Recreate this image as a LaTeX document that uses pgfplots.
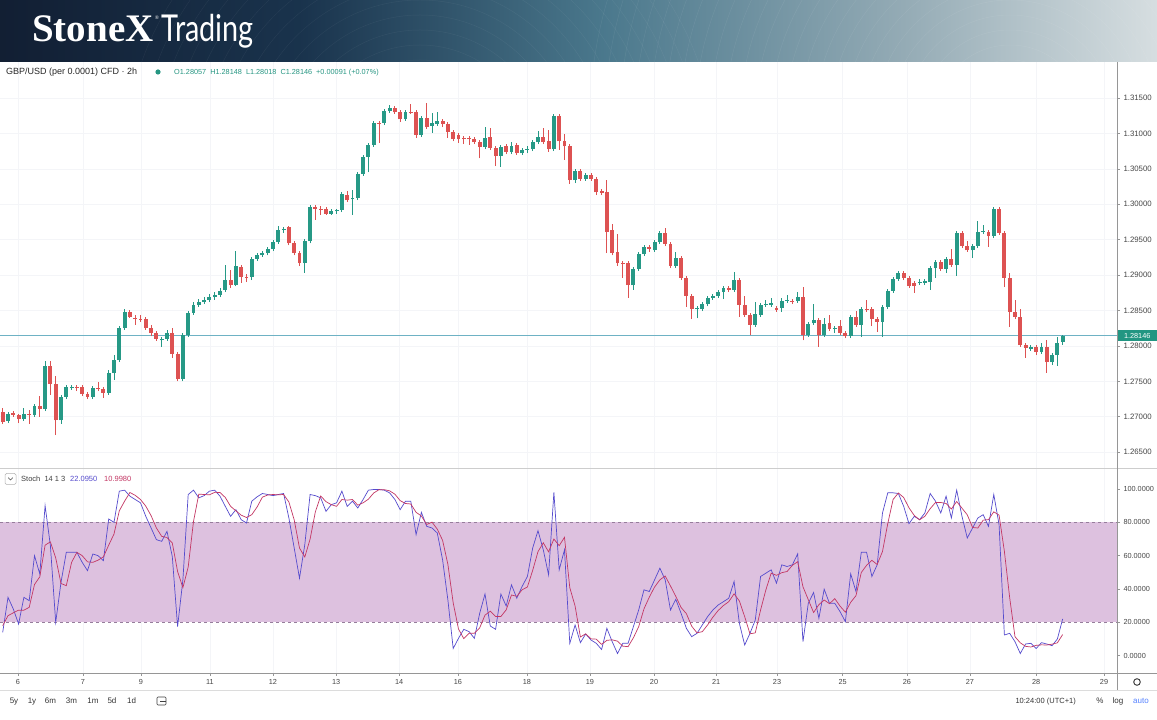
\documentclass[border=0pt]{standalone}
\usepackage{fontspec}
\setmainfont{Liberation Sans}
\newfontfamily\lserif{Liberation Serif}
\newfontfamily\lato{Lato}
\usepackage{graphicx}
\usepackage{pgfplots}
\usepackage{pgfplotstable}
\pgfplotsset{compat=1.18}

\definecolor{upc}{RGB}{38,153,134}
\definecolor{dnc}{RGB}{221,82,82}
\definecolor{gridc}{RGB}{244,245,248}
\definecolor{labelc}{RGB}{70,70,70}
\definecolor{bandc}{RGB}{221,193,223}
\definecolor{bandline}{RGB}{150,125,155}
\definecolor{kc}{RGB}{85,75,205}
\definecolor{dc}{RGB}{195,55,100}
\definecolor{pricec}{RGB}{110,178,196}
\definecolor{tagc}{RGB}{34,150,130}
\definecolor{sepc}{RGB}{205,205,205}
\definecolor{axc}{RGB}{150,150,150}
\definecolor{ohlcc}{RGB}{38,150,130}
\definecolor{autoc}{RGB}{41,98,255}

\pgfdeclarehorizontalshading{hdr}{100bp}{rgb(0bp)=(0.07,0.12,0.20); rgb(25bp)=(0.07,0.12,0.20); rgb(38bp)=(0.10,0.20,0.30); rgb(51bp)=(0.29,0.47,0.55); rgb(64bp)=(0.58,0.67,0.71); rgb(75bp)=(0.84,0.87,0.88); rgb(100bp)=(0.84,0.87,0.88)}

\pgfplotstableread{
x o h l c
0 1.2707 1.2712 1.2690 1.2693
1 1.2694 1.2707 1.2691 1.2704
2 1.2705 1.2708 1.2700 1.2703
3 1.2703 1.2704 1.2691 1.2697
4 1.2697 1.2712 1.2694 1.2704
5 1.2704 1.2710 1.2690 1.2703
6 1.2703 1.2718 1.2700 1.2715
7 1.2715 1.2729 1.2700 1.2711
8 1.2711 1.2779 1.2708 1.2772
9 1.2772 1.2779 1.2731 1.2746
10 1.2746 1.2758 1.2674 1.2695
11 1.2695 1.2731 1.2690 1.2728
12 1.2728 1.2745 1.2725 1.2742
13 1.2741 1.2745 1.2738 1.2742
14 1.2742 1.2745 1.2736 1.2741
15 1.2742 1.2745 1.2729 1.2732
16 1.2732 1.2735 1.2725 1.2728
17 1.2728 1.2743 1.2725 1.2741
18 1.2741 1.2749 1.2736 1.2739
19 1.2739 1.2742 1.2727 1.2734
20 1.2734 1.2766 1.2731 1.2762
21 1.2762 1.2787 1.2752 1.2780
22 1.2780 1.2828 1.2777 1.2825
23 1.2825 1.2852 1.2823 1.2848
24 1.2848 1.2851 1.2840 1.2841
25 1.2840 1.2843 1.2830 1.2838
26 1.2838 1.2843 1.2834 1.2837
27 1.2838 1.2841 1.2823 1.2825
28 1.2825 1.2830 1.2814 1.2818
29 1.2818 1.2821 1.2807 1.2810
30 1.2808 1.2813 1.2799 1.2810
31 1.2810 1.2823 1.2807 1.2818
32 1.2818 1.2825 1.2783 1.2789
33 1.2789 1.2792 1.2750 1.2753
34 1.2753 1.2818 1.2750 1.2815
35 1.2815 1.2849 1.2813 1.2847
36 1.2847 1.2862 1.2844 1.2858
37 1.2858 1.2866 1.2855 1.2862
38 1.2862 1.2869 1.2859 1.2865
39 1.2865 1.2873 1.2862 1.2869
40 1.2869 1.2876 1.2865 1.2872
41 1.2872 1.2882 1.2869 1.2878
42 1.2879 1.2914 1.2876 1.2893
43 1.2893 1.2907 1.2882 1.2886
44 1.2886 1.2934 1.2884 1.2913
45 1.2911 1.2914 1.2889 1.2897
46 1.2897 1.2901 1.2890 1.2896
47 1.2897 1.2926 1.2893 1.2923
48 1.2923 1.2931 1.2920 1.2928
49 1.2928 1.2934 1.2926 1.2931
50 1.2931 1.2940 1.2928 1.2937
51 1.2937 1.2950 1.2934 1.2947
52 1.2947 1.2969 1.2944 1.2964
53 1.2964 1.2968 1.2960 1.2965
54 1.2968 1.2969 1.2942 1.2945
55 1.2945 1.2948 1.2928 1.2931
56 1.2931 1.2934 1.2913 1.2917
57 1.2917 1.2951 1.2903 1.2948
58 1.2948 1.2999 1.2945 1.2996
59 1.2996 1.2999 1.2978 1.2994
60 1.2994 1.2997 1.2985 1.2993
61 1.2993 1.2996 1.2985 1.2987
62 1.2987 1.2993 1.2985 1.2990
63 1.2990 1.2994 1.2987 1.2992
64 1.2992 1.3017 1.2989 1.3015
65 1.3013 1.3019 1.3003 1.3006
66 1.3007 1.3020 1.2985 1.3009
67 1.3009 1.3046 1.3006 1.3043
68 1.3043 1.3070 1.3040 1.3067
69 1.3067 1.3087 1.3045 1.3084
70 1.3084 1.3118 1.3081 1.3115
71 1.3115 1.3118 1.3087 1.3114
72 1.3115 1.3135 1.3112 1.3132
73 1.3132 1.3140 1.3129 1.3136
74 1.3136 1.3139 1.3128 1.3130
75 1.3130 1.3133 1.3116 1.3120
76 1.3120 1.3133 1.3118 1.3130
77 1.3130 1.3142 1.3128 1.3129
78 1.3130 1.3133 1.3094 1.3098
79 1.3098 1.3125 1.3095 1.3122
80 1.3122 1.3143 1.3107 1.3109
81 1.3111 1.3129 1.3101 1.3115
82 1.3114 1.3130 1.3111 1.3118
83 1.3118 1.3121 1.3109 1.3114
84 1.3114 1.3116 1.3094 1.3102
85 1.3102 1.3105 1.3089 1.3092
86 1.3098 1.3101 1.3087 1.3092
87 1.3094 1.3097 1.3085 1.3093
88 1.3094 1.3097 1.3084 1.3092
89 1.3092 1.3095 1.3085 1.3088
90 1.3088 1.3091 1.3065 1.3081
91 1.3081 1.3109 1.3078 1.3094
92 1.3095 1.3108 1.3077 1.3080
93 1.3080 1.3082 1.3054 1.3068
94 1.3068 1.3084 1.3053 1.3081
95 1.3082 1.3085 1.3071 1.3074
96 1.3074 1.3088 1.3071 1.3082
97 1.3084 1.3087 1.3070 1.3072
98 1.3072 1.3079 1.3070 1.3077
99 1.3077 1.3082 1.3072 1.3078
100 1.3078 1.3091 1.3075 1.3088
101 1.3088 1.3104 1.3085 1.3095
102 1.3095 1.3108 1.3085 1.3088
103 1.3089 1.3105 1.3074 1.3078
104 1.3078 1.3128 1.3075 1.3125
105 1.3125 1.3128 1.3077 1.3089
106 1.3089 1.3099 1.3063 1.3082
107 1.3082 1.3085 1.3029 1.3034
108 1.3034 1.3050 1.3030 1.3047
109 1.3047 1.3050 1.3033 1.3036
110 1.3036 1.3044 1.3033 1.3041
111 1.3041 1.3044 1.3033 1.3036
112 1.3036 1.3039 1.3013 1.3017
113 1.3019 1.3022 1.3013 1.3016
114 1.3017 1.3034 1.2931 1.2961
115 1.2964 1.2972 1.2928 1.2931
116 1.2933 1.2958 1.2913 1.2917
117 1.2917 1.2920 1.2896 1.2916
118 1.2917 1.2920 1.2868 1.2886
119 1.2886 1.2911 1.2879 1.2909
120 1.2909 1.2933 1.2906 1.2930
121 1.2930 1.2942 1.2927 1.2940
122 1.2940 1.2942 1.2933 1.2937
123 1.2935 1.2950 1.2933 1.2947
124 1.2947 1.2962 1.2944 1.2960
125 1.2960 1.2967 1.2941 1.2944
126 1.2944 1.2947 1.2910 1.2913
127 1.2913 1.2933 1.2910 1.2924
128 1.2924 1.2927 1.2893 1.2896
129 1.2896 1.2899 1.2855 1.2871
130 1.2871 1.2874 1.2838 1.2852
131 1.2852 1.2856 1.2839 1.2854
132 1.2852 1.2862 1.2849 1.2859
133 1.2859 1.2871 1.2856 1.2868
134 1.2868 1.2874 1.2865 1.2871
135 1.2871 1.2879 1.2868 1.2876
136 1.2876 1.2885 1.2866 1.2882
137 1.2882 1.2885 1.2876 1.2879
138 1.2879 1.2905 1.2876 1.2893
139 1.2893 1.2896 1.2841 1.2858
140 1.2858 1.2871 1.2841 1.2844
141 1.2844 1.2847 1.2815 1.2830
142 1.2830 1.2862 1.2827 1.2845
143 1.2844 1.2861 1.2841 1.2858
144 1.2858 1.2865 1.2855 1.2859
145 1.2858 1.2868 1.2855 1.2861
146 1.2854 1.2856 1.2848 1.2851
147 1.2854 1.2868 1.2848 1.2864
148 1.2864 1.2872 1.2861 1.2865
149 1.2864 1.2866 1.2859 1.2863
150 1.2864 1.2876 1.2861 1.2869
151 1.2869 1.2883 1.2808 1.2815
152 1.2815 1.2834 1.2813 1.2831
153 1.2832 1.2859 1.2830 1.2837
154 1.2837 1.2840 1.2799 1.2815
155 1.2815 1.2840 1.2813 1.2831
156 1.2832 1.2843 1.2821 1.2824
157 1.2824 1.2828 1.2818 1.2825
158 1.2828 1.2837 1.2815 1.2818
159 1.2818 1.2821 1.2811 1.2814
160 1.2814 1.2844 1.2811 1.2841
161 1.2841 1.2849 1.2827 1.2830
162 1.2830 1.2855 1.2813 1.2852
163 1.2852 1.2865 1.2848 1.2851
164 1.2852 1.2855 1.2828 1.2838
165 1.2838 1.2841 1.2820 1.2834
166 1.2834 1.2858 1.2813 1.2855
167 1.2855 1.2880 1.2852 1.2878
168 1.2878 1.2898 1.2875 1.2895
169 1.2895 1.2906 1.2892 1.2903
170 1.2903 1.2906 1.2893 1.2896
171 1.2896 1.2899 1.2882 1.2885
172 1.2889 1.2892 1.2875 1.2885
173 1.2889 1.2895 1.2886 1.2890
174 1.2889 1.2895 1.2886 1.2892
175 1.2890 1.2913 1.2879 1.2910
176 1.2910 1.2921 1.2896 1.2919
177 1.2919 1.2921 1.2906 1.2909
178 1.2909 1.2926 1.2903 1.2923
179 1.2923 1.2937 1.2912 1.2914
180 1.2914 1.2962 1.2899 1.2960
181 1.2960 1.2962 1.2938 1.2941
182 1.2941 1.2948 1.2933 1.2935
183 1.2935 1.2944 1.2924 1.2941
184 1.2941 1.2977 1.2938 1.2961
185 1.2961 1.2971 1.2958 1.2962
186 1.2961 1.2964 1.2940 1.2955
187 1.2955 1.2996 1.2952 1.2993
188 1.2993 1.2996 1.2957 1.2960
189 1.2960 1.2962 1.2883 1.2896
190 1.2896 1.2903 1.2827 1.2848
191 1.2848 1.2865 1.2838 1.2841
192 1.2841 1.2852 1.2799 1.2801
193 1.2801 1.2804 1.2783 1.2797
194 1.2796 1.2801 1.2793 1.2799
195 1.2799 1.2801 1.2787 1.2792
196 1.2792 1.2804 1.2789 1.2799
197 1.2799 1.2808 1.2762 1.2777
198 1.2777 1.2790 1.2773 1.2787
199 1.2787 1.2813 1.2772 1.2804
200 1.28057 1.28148 1.28018 1.28146
}\candles

\pgfplotstableread{
x k d
0 14 18
1 35 24
2 28 25.7
3 19 27.3
4 35 27.3
5 33 29
6 60 42.7
7 49 47.3
8 90 66.3
9 66 68.3
10 20 58.7
11 44 43.3
12 62 42
13 62 56
14 62 62
15 56 60
16 51 56.3
17 61 56
18 60 57.3
19 57 59.3
20 82 66.3
21 80 73
22 98.7 86.9
23 99.3 92.7
24 95.7 97.9
25 93.7 96.2
26 91.7 93.7
27 83.6 89.7
28 76.6 84
29 69.6 76.6
30 68.6 71.6
31 74.6 70.9
32 59.5 67.6
33 17.4 50.5
34 45.5 40.8
35 96.7 53.2
36 99.3 80.5
37 94.7 96.9
38 96 96.7
39 98.7 96.5
40 99.3 98
41 95.7 97.9
42 89.6 94.9
43 83.6 89.6
44 87.6 86.9
45 81.6 84.3
46 79.6 82.9
47 92.7 84.6
48 95.3 89.2
49 97.3 95.1
50 96.7 96.4
51 96 96.7
52 96.7 96.5
53 97.3 96.7
54 82.6 92.2
55 64.6 81.5
56 46.5 64.6
57 66.6 59.2
58 96.7 69.9
59 96 86.4
60 94.7 95.8
61 86.6 92.4
62 90.6 90.6
63 91.7 89.6
64 98.7 93.7
65 89.6 93.3
66 92.7 93.7
67 88.6 90.3
68 93.7 91.7
69 99.3 93.9
70 99.7 97.6
71 99.7 99.6
72 99.3 99.6
73 97.7 98.9
74 93.7 96.9
75 87.6 93
76 92.7 91.3
77 92.7 91
78 72.6 86
79 86 83.8
80 77.6 78.7
81 76.6 80.1
82 73.6 75.9
83 57.5 69.2
84 33.4 54.8
85 4.3 31.7
86 10.4 16
87 15.8 10.2
88 14.4 13.5
89 10.4 13.5
90 25.4 16.7
91 37 24.3
92 17.8 26.7
93 15.8 23.5
94 37 23.5
95 29.8 27.5
96 42.5 36.4
97 34.5 35.6
98 41.5 39.5
99 47.5 41.2
100 64.6 51.2
101 75 62.4
102 63.5 67.7
103 48.5 62.3
104 98 70
105 51.5 66
106 63.5 71
107 7.4 40.8
108 18.4 29.8
109 7.8 11.2
110 13 13.1
111 9.4 10.1
112 7.4 9.9
113 3.7 6.8
114 16.4 9.2
115 8.4 9.5
116 1.3 8.7
117 7.4 5.7
118 7.4 5.4
119 17.4 10.7
120 27.4 17.4
121 39.5 28.1
122 38.5 35.1
123 45.5 41.2
124 52.5 45.5
125 45.5 47.8
126 27.4 41.8
127 33.8 35.6
128 25.4 28.9
129 16.4 25.2
130 11.4 17.7
131 13.4 13.7
132 18.4 14.4
133 23.4 18.4
134 27.4 23.1
135 30.4 27.1
136 32.4 30.1
137 34.5 32.4
138 44.5 37.1
139 19.4 32.8
140 6.4 23.4
141 13.4 13.1
142 21.4 13.7
143 47.5 27.4
144 49.5 39.5
145 51.5 49.5
146 43.5 48.2
147 54.5 49.8
148 53.5 50.5
149 54.5 54.2
150 61.1 56.4
151 8.4 41.3
152 31.4 33.6
153 37.9 25.9
154 22.4 30.6
155 39.9 33.4
156 31.4 31.2
157 31.4 34.2
158 26.4 29.7
159 20.4 26.1
160 49.1 32
161 38.5 36
162 62 49.9
163 62 54.2
164 47.5 57.2
165 54.5 54.7
166 85.6 62.5
167 97.7 79.3
168 97.7 93.7
169 97.3 97.6
170 89.6 94.9
171 79.2 88.7
172 83.6 84.1
173 81.6 81.5
174 85.6 83.6
175 97.3 88.2
176 92.7 91.9
177 85.6 91.9
178 95.7 91.3
179 82.6 88
180 99.3 92.5
181 83.6 88.5
182 70.6 84.5
183 76.6 76.9
184 82.6 76.6
185 84.6 81.3
186 77.6 81.6
187 96.7 86.3
188 78.6 84.3
189 12.4 62.6
190 13.4 34.8
191 8.4 11.4
192 1.3 7.7
193 7 5.6
194 7.4 5.2
195 4.3 6.2
196 7.8 6.5
197 7 6.4
198 6 6.9
199 10 7.7
200 22.095 12.7
}\stoch

\begin{document}
\begin{tikzpicture}
\path[use as bounding box] (0pt,0pt) rectangle (1157pt,720pt);
\fill[white] (0pt,0pt) rectangle (1157pt,720pt);
% header
\shade[shading=hdr] (0pt,658pt) rectangle (1157pt,720pt);
\begin{scope}
\clip (0pt,658pt) rectangle (1157pt,720pt);
\foreach \r in {60,75,...,420}{
  \draw[white, opacity=0.07, line width=0.5pt] (1010pt,600pt) circle (\r pt);
}
\foreach \r in {40,55,...,300}{
  \draw[white, opacity=0.05, line width=0.5pt] (420pt,560pt) circle (\r pt);
}
\end{scope}
\node[anchor=base west, inner sep=0pt, text=white] at (32pt,678pt) {\fontsize{39}{39}\selectfont\lserif\bfseries StoneX};
\node[anchor=center, inner sep=0pt, text=white] at (157pt,702pt) {\fontsize{5.5}{6}\selectfont\lserif ®};
\node[anchor=base west, inner sep=0pt, text=white] at (161pt,678pt) {\scalebox{0.78}[1]{\fontsize{37}{37}\selectfont\lato Trading}};

% main price pane
\begin{axis}[
  at={(0pt,252pt)}, anchor=south west, scale only axis,
  width=1117pt, height=406pt,
  xmin=-0.51, xmax=210.25, ymin=1.26276, ymax=1.32010,
  axis line style={draw=none},
  xtick={2.89,15.15,26.1,39.1,51.0,62.9,74.8,85.9,98.9,110.8,122.9,134.6,146.1,158.5,170.6,182.5,195.0,207.8},
  xticklabels={}, xtick style={draw=none},
  xmajorgrids, ymajorgrids, grid style={draw=gridc, line width=0.6pt},
  ytick={1.265,1.270,1.275,1.280,1.285,1.290,1.295,1.300,1.305,1.310,1.315},
  ytick pos=right, yticklabel pos=right,
  tick align=outside, major tick length=3pt,
  ytick style={draw=axc, line width=0.5pt},
  scaled y ticks=false,
  yticklabel style={font=\fontsize{7.8}{9}\selectfont, text=labelc,
    /pgf/number format/fixed, /pgf/number format/fixed zerofill,
    /pgf/number format/precision=5, /pgf/number format/assume math mode=true},
]
\draw[pricec, line width=0.7pt] (axis cs:-0.51,1.28146) -- (axis cs:210.25,1.28146);
\coordinate (ptag) at (axis cs:210.25,1.28146);
% up candles
\addplot[draw=none, mark=none, forget plot,
  restrict expr to domain={\thisrow{c}-\thisrow{o}}{0:1},
  error bars/.cd, y dir=plus, y explicit, error mark=none,
  error bar style={line width=0.9pt, draw=upc}]
  table[x=x, y=l, y error expr=\thisrow{h}-\thisrow{l}] {\candles};
\addplot[draw=none, mark=none, forget plot,
  restrict expr to domain={\thisrow{c}-\thisrow{o}}{0:1},
  error bars/.cd, y dir=plus, y explicit, error mark=none,
  error bar style={line width=3.9pt, draw=upc}]
  table[x=x, y=o, y error expr=\thisrow{c}-\thisrow{o}] {\candles};
% down candles
\addplot[draw=none, mark=none, forget plot,
  restrict expr to domain={\thisrow{c}-\thisrow{o}}{-1:-0.00005},
  error bars/.cd, y dir=plus, y explicit, error mark=none,
  error bar style={line width=0.9pt, draw=dnc}]
  table[x=x, y=l, y error expr=\thisrow{h}-\thisrow{l}] {\candles};
\addplot[draw=none, mark=none, forget plot,
  restrict expr to domain={\thisrow{c}-\thisrow{o}}{-1:-0.00005},
  error bars/.cd, y dir=plus, y explicit, error mark=none,
  error bar style={line width=3.9pt, draw=dnc}]
  table[x=x, y=c, y error expr=\thisrow{o}-\thisrow{c}] {\candles};
\end{axis}

% stochastic pane
\begin{axis}[
  at={(0pt,47pt)}, anchor=south west, scale only axis,
  width=1117pt, height=205pt,
  xmin=-0.51, xmax=210.25, ymin=-10.4, ymax=112.6,
  axis line style={draw=none},
  xtick={2.89,15.15,26.1,39.1,51.0,62.9,74.8,85.9,98.9,110.8,122.9,134.6,146.1,158.5,170.6,182.5,195.0,207.8},
  xticklabels={6,7,9,11,12,13,14,16,18,19,20,21,23,25,26,27,28,29},
  xtick pos=left, ytick pos=right, yticklabel pos=right,
  ytick={0,20,40,60,80,100},
  tick align=outside, major tick length=3pt,
  tick style={draw=axc, line width=0.5pt},
  xmajorgrids, grid style={draw=gridc, line width=0.6pt},
  xticklabel style={font=\fontsize{7.3}{8}\selectfont, text=labelc},
  yticklabel style={font=\fontsize{7.3}{8}\selectfont, text=labelc,
    /pgf/number format/fixed, /pgf/number format/fixed zerofill,
    /pgf/number format/precision=4, /pgf/number format/assume math mode=true},
]
\fill[bandc] (axis cs:-0.51,20) rectangle (axis cs:210.25,80);
\draw[bandline, dashed, line width=0.6pt] (axis cs:-0.51,80) -- (axis cs:210.25,80);
\draw[bandline, dashed, line width=0.6pt] (axis cs:-0.51,20) -- (axis cs:210.25,20);
\addplot[kc, line width=0.7pt, mark=none] table[x=x, y=k] {\stoch};
\addplot[dc, line width=0.7pt, mark=none] table[x=x, y=d] {\stoch};
\end{axis}

% price tag
\node[fill=tagc, text=white, anchor=west, inner sep=0pt, minimum height=11pt, minimum width=39pt,
  font=\fontsize{7.3}{8}\selectfont] at ([xshift=0.5pt]ptag) {1.28146};

% separators
\draw[sepc, line width=0.7pt] (0pt,252pt) -- (1157pt,252pt);
\draw[axc, line width=0.6pt] (0pt,47pt) -- (1157pt,47pt);
\draw[axc, line width=0.6pt] (1117pt,30pt) -- (1117pt,658pt);
\draw[sepc!70, line width=0.5pt] (0pt,30pt) -- (1157pt,30pt);

% legend row
\node[anchor=base west, inner sep=0pt, text=black!85] at (6pt,645pt) {\fontsize{9}{10}\selectfont GBP/USD (per 0.0001) CFD · 2h};
\fill[ohlcc] (158pt,648pt) circle (2.6pt);
\node[anchor=base west, inner sep=0pt, text=ohlcc] at (174pt,645.5pt) {\fontsize{7.3}{8}\selectfont O1.28057 \ H1.28148 \ L1.28018 \ C1.28146 \ +0.00091 (+0.07\%)};

% stoch legend
\draw[black!30, rounded corners=1.5pt, line width=0.5pt] (5pt,235.5pt) rectangle (16pt,246.5pt);
\draw[black!70, line width=0.6pt] (8.3pt,242.3pt) -- (10.5pt,240pt) -- (12.7pt,242.3pt);
\node[anchor=base west, inner sep=0pt, text=black!75] at (21pt,238pt) {\fontsize{7.5}{8}\selectfont Stoch \ 14 1 3};
\node[anchor=base west, inner sep=0pt, text=kc] at (70pt,238pt) {\fontsize{7.5}{8}\selectfont 22.0950};
\node[anchor=base west, inner sep=0pt, text=dc] at (104pt,238pt) {\fontsize{7.5}{8}\selectfont 10.9980};

% bottom toolbar
\foreach \lab/\xx in {5y/14,1y/32,6m/50.5,3m/71.5,1m/93,5d/112,1d/131.5}{
  \node[anchor=base, inner sep=0pt, text=black!80] at (\xx pt,16pt) {\fontsize{8}{9}\selectfont \lab};
}
\draw[black!75, line width=0.7pt, rounded corners=1pt] (157pt,15pt) rectangle (166pt,23pt);
\draw[black!75, line width=0.7pt] (160pt,19pt) -- (166pt,19pt);
\node[anchor=base east, inner sep=0pt, text=black!80] at (1076pt,16pt) {\fontsize{7.5}{9}\selectfont 10:24:00 (UTC+1)};
\node[anchor=base, inner sep=0pt, text=black!80] at (1100pt,16pt) {\fontsize{8}{9}\selectfont \%};
\node[anchor=base, inner sep=0pt, text=black!80] at (1118pt,16pt) {\fontsize{8}{9}\selectfont log};
\node[anchor=base, inner sep=0pt, text=autoc!80] at (1141pt,16pt) {\fontsize{8}{9}\selectfont auto};
\draw[black!80, line width=0.9pt] (1137pt,38pt) circle (3.3pt);
\end{tikzpicture}
\end{document}
